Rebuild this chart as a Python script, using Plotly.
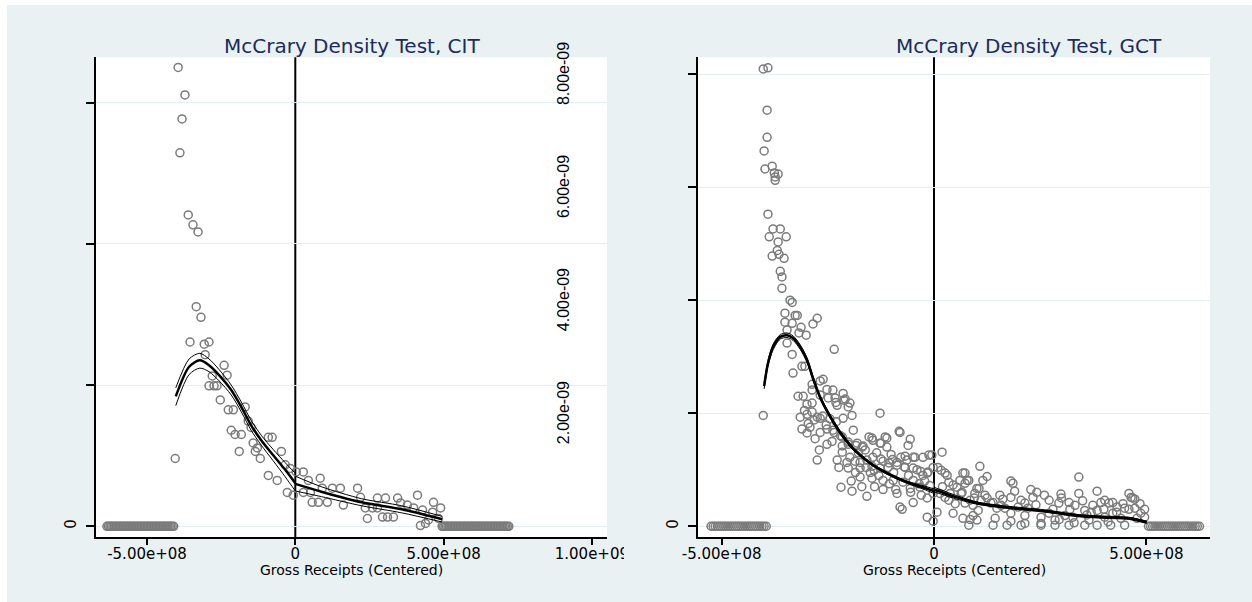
import plotly.graph_objects as go

E8 = 1e8   # x values below are in units of 1e8
E9 = 1e-9  # y values below are in units of 1e-9

# ---------------- CIT panel data ----------------
cit_x = [-3.95, -3.72, -3.82, -3.89, -3.61, -3.45, -3.28, -3.34, -3.18, -3.55, -3.07, -2.91,
         -3.04, -2.40, -2.80, -2.30, -2.91, -2.74, -2.64, -2.53, -2.26, -2.09, -1.69, -2.16,
         -2.03, -1.82, -1.59, -1.49, -1.89, -1.42, -1.35, -1.28, -0.91, -0.78, -1.18, -0.47,
         -0.34, -0.17, -0.91, -0.61, -0.27, -0.07, -4.05,
         0.03, 0.27, 0.44, 0.84, 0.27, 0.51, 0.57, 0.78, 1.08, 0.91, 1.25, 1.52, 2.10, 1.62,
         2.20, 2.43, 2.36, 2.60, 2.77, 2.77, 3.04, 3.45, 2.94, 3.11, 3.31, 3.55, 3.78, 3.99,
         4.12, 4.66, 4.90, 4.29, 4.63, 4.22, 4.39, 4.49, 4.83]
cit_y = [6.50, 6.11, 5.77, 5.29, 4.41, 4.27, 4.17, 3.11, 2.96, 2.61, 2.58, 2.61,
         2.43, 2.28, 2.13, 2.14, 1.99, 1.99, 1.99, 1.79, 1.65, 1.65, 1.69, 1.36,
         1.30, 1.30, 1.49, 1.40, 1.06, 1.18, 1.06, 1.11, 1.26, 1.26, 0.96, 1.06,
         0.87, 0.82, 0.72, 0.65, 0.48, 0.44, 0.96,
         0.77, 0.77, 0.65, 0.68, 0.48, 0.48, 0.34, 0.34, 0.34, 0.54, 0.54, 0.54, 0.54, 0.30,
         0.41, 0.11, 0.26, 0.26, 0.26, 0.40, 0.40, 0.40, 0.13, 0.13, 0.13, 0.33, 0.30, 0.26,
         0.44, 0.34, 0.26, 0.23, 0.20, 0.01, 0.04, 0.09, 0.11]
cit_zero_x = [-6.35, -6.30, -6.25, -6.20, -6.15, -6.10, -6.05, -6.00, -5.95, -5.90, -5.85,
              -5.80, -5.75, -5.70, -5.65, -5.60, -5.55, -5.50, -5.45, -5.40, -5.35, -5.30,
              -5.25, -5.20, -5.15, -5.10, -5.05, -5.00, -4.95, -4.90, -4.85, -4.80, -4.75,
              -4.70, -4.65, -4.60, -4.55, -4.50, -4.45, -4.40, -4.35, -4.30, -4.25, -4.20,
              -4.15, -4.10,
              4.95, 5.00, 5.05, 5.10, 5.15, 5.20, 5.25, 5.30, 5.35, 5.40, 5.45, 5.50, 5.55,
              5.60, 5.65, 5.70, 5.75, 5.80, 5.85, 5.90, 5.95, 6.00, 6.05, 6.10, 6.15, 6.20,
              6.25, 6.30, 6.35, 6.40, 6.45, 6.50, 6.55, 6.60, 6.65, 6.70, 6.75, 6.80, 6.85,
              6.90, 6.95, 7.00, 7.05, 7.10, 7.15, 7.20]

cit_fit_lx = [-4.03, -3.58, -3.22, -2.91, -2.57, -2.16, -1.82, -1.49, -1.15, -0.75, -0.34, 0.0]
cit_fit_l = [1.84, 2.26, 2.35, 2.28, 2.14, 1.93, 1.69, 1.43, 1.22, 1.01, 0.80, 0.61]
cit_up_l = [1.96, 2.37, 2.45, 2.37, 2.22, 2.00, 1.76, 1.50, 1.29, 1.09, 0.90, 0.75]
cit_lo_l = [1.71, 2.15, 2.24, 2.19, 2.06, 1.86, 1.62, 1.36, 1.15, 0.93, 0.70, 0.50]
cit_fit_rx = [0.0, 0.88, 2.24, 3.59, 4.95]
cit_fit_r = [0.60, 0.49, 0.34, 0.24, 0.10]
cit_up_r = [0.71, 0.56, 0.39, 0.29, 0.14]
cit_lo_r = [0.50, 0.42, 0.29, 0.19, 0.06]

# ---------------- GCT panel data ----------------
gct_x = [-4.02, -3.91, -3.93, -3.93, -4.00, -3.81, -3.98, -3.76, -3.67, -3.74, -3.74, -3.91,
         -3.79, -3.62, -3.88, -3.48, -3.67, -3.69, -3.81, -3.65, -3.53, -3.62, -3.58, -3.58,
         -3.39, -3.34, -3.51, -3.27, -3.22, -2.75, -2.85, -3.51, -3.34, -3.13, -3.01, -3.18,
         -3.46, -3.46, -3.34, -2.35, -3.32, -3.11, -3.04, -4.02,
         -2.61, -2.68, -2.87, -2.52, -2.38, -2.14, -3.20, -3.08, -2.99, -2.87, -2.33, -2.09,
         -2.28, -2.02, -1.27, -1.93, -2.14, -3.15, -2.99, -2.87, -2.75, -2.68, -2.96, -3.11,
         -2.99, -2.68, -2.52, -2.38, -2.52, -2.16, -2.02, -1.81, -1.67, -1.46, -1.27, -1.11,
         -0.80, -2.75, -2.28, -2.05, -1.86, -1.58, -0.56, -0.61, -2.24, -2.02, -1.74, -1.46,
         -1.27, -1.08, -0.87, -0.64, -0.45, -2.19, -1.93, -1.58, -1.20, -0.87, -0.56, -0.33,
         -1.74, -1.46, -1.20, -0.96, -0.73, -0.49, -0.26, -0.14, -0.80, -0.75, -0.49, -0.16,
         -0.02, -0.16, -0.02, -0.05, 0.19,
         -1.53, -1.44, -1.15, -1.25, -1.11, -1.01, -0.78, -0.68, -0.49, -0.26, -0.12, -0.68,
         -0.49, -0.31, -0.16, -1.44, -1.25, -1.06, -0.87, -2.16, -1.98, -1.74, -1.60, -1.41,
         -2.82, -2.54, -2.35, -2.16, -2.02, -1.84, -1.69, -2.87, -2.68, -2.49, -2.31, -2.12,
         -1.98, -0.82,
         -3.05, -2.92, -2.80, -2.62, -2.45, -2.30, -2.20, -1.90, -1.78, -1.62, -1.35, -1.20,
         -0.98, -0.70, -0.40, -0.22, -2.70, -2.40, -1.85, -1.50, -1.30, -0.95, -0.60, -0.35,
         -1.95, -1.70, -1.40, -1.05, -0.90, -0.55, -0.30, -0.10,
         0.09, 0.31, 0.68, 0.61, 0.78, 0.14, 0.38, 0.66, 0.85, 0.96, 0.07, 0.45, 0.68, 0.85,
         0.92, 1.04, 1.08, 0.73, 0.82, 0.73, 1.25, 1.15, 1.06, 1.01, 1.81, 1.86, 3.41, 3.84,
         3.41, 2.99, 4.59, 4.68, 2.28, 2.42, 2.71, 2.33, 1.39, 1.62, 1.81, 2.05, 2.14, 2.94,
         3.18, 3.32, 3.55, 3.74, 3.93, 4.12, 4.31, 4.49, 4.73, 4.96, 1.48, 1.81, 2.14, 2.52,
         2.71, 3.08, 1.01, 1.44, 1.81, 2.14, 2.52, 2.85, 3.27, 3.65, 4.02, 4.40, 4.78, 0.82,
         1.39, 1.72, 2.05, 2.52, 2.85, 3.18, 3.55, 3.84, 4.16, 4.49, 4.64, 4.73, 4.21, 4.02,
         3.84, 4.21, 4.59, 4.87, 4.96,
         -0.02, 0.17, 0.26, 0.35, 0.45, 0.54, 0.64, 0.26, 0.35, 0.73, 0.92, 1.11, 1.25, 1.34,
         1.58, 1.67, 1.98, 2.21,
         0.20, 0.50, 0.95, 1.20, 1.55, 1.90, 2.40, 2.60, 2.80, 3.00, 3.20, 3.50, 3.70, 4.00,
         4.30, 4.45, 4.85, 2.95, 3.30, 3.60, 4.10]
gct_y = [8.09, 8.11, 7.36, 6.88, 6.64, 6.37, 6.32, 6.25, 6.23, 6.18, 6.12, 5.52,
         5.26, 5.26, 5.12, 5.12, 5.03, 4.88, 4.78, 4.81, 4.74, 4.51, 4.41, 4.21,
         4.00, 3.96, 3.77, 3.73, 3.73, 3.68, 3.58, 3.61, 3.59, 3.52, 3.38, 3.42,
         3.47, 3.24, 3.04, 3.13, 2.71, 2.83, 2.83, 1.96,
         2.60, 2.57, 2.51, 2.42, 2.41, 2.35, 2.30, 2.30, 2.16, 2.18, 2.27, 2.25,
         2.14, 2.11, 2.00, 1.96, 1.91, 1.93, 1.98, 2.02, 1.93, 1.91, 1.82, 1.72,
         1.65, 1.66, 1.72, 1.70, 1.45, 1.42, 1.45, 1.47, 1.42, 1.56, 1.47, 1.56,
         1.66, 1.17, 1.17, 1.13, 1.15, 1.17, 1.54, 1.43, 1.04, 1.03, 1.03, 1.06,
         1.03, 1.04, 1.13, 1.17, 1.22, 0.69, 0.62, 0.53, 0.65, 0.58, 0.67, 0.69,
         0.87, 0.85, 0.81, 0.81, 0.78, 0.81, 0.90, 0.96, 0.34, 0.30, 0.42, 0.50,
         0.58, 0.16, 0.09, 1.26, 1.31,
         1.58, 1.52, 1.58, 1.47, 1.40, 1.27, 1.22, 1.24, 1.22, 1.22, 1.26, 1.04,
         1.03, 0.97, 0.94, 1.22, 1.19, 1.12, 1.08, 1.31, 1.22, 1.13, 1.04, 0.99,
         1.88, 1.79, 1.66, 1.58, 1.49, 1.43, 1.40, 2.41, 2.32, 2.27, 2.19, 2.23,
         2.18, 1.68,
         2.05, 1.75, 1.55, 1.95, 1.90, 1.85, 1.60, 1.70, 1.30, 1.35, 1.30, 1.15,
         1.18, 1.05, 1.00, 0.80, 1.35, 1.50, 0.95, 0.95, 0.90, 0.95, 0.90, 0.75,
         0.80, 0.70, 0.70, 0.75, 0.65, 0.60, 0.55, 0.72,
         1.04, 0.90, 0.94, 0.81, 0.81, 0.58, 0.58, 0.60, 0.46, 0.58, 0.25, 0.23, 0.14, 0.12,
         0.19, 0.28, 1.06, 0.94, 0.81, 0.76, 0.88, 0.81, 0.67, 0.67, 0.80, 0.76, 0.87, 0.62,
         0.58, 0.57, 0.58, 0.50, 0.65, 0.60, 0.46, 0.51, 0.42, 0.48, 0.51, 0.46, 0.41, 0.41,
         0.42, 0.37, 0.28, 0.37, 0.42, 0.41, 0.34, 0.32, 0.32, 0.30, 0.32, 0.23, 0.19, 0.16,
         0.23, 0.19, 0.11, 0.14, 0.09, 0.05, 0.05, 0.11, 0.16, 0.11, 0.16, 0.14, 0.14, 0.02,
         0.02, 0.02, 0.02, 0.02, 0.02, 0.02, 0.02, 0.02, 0.02, 0.02, 0.51, 0.48, 0.42, 0.46,
         0.28, 0.23, 0.30, 0.23, 0.16,
         1.04, 0.99, 0.94, 0.78, 0.73, 0.69, 0.58, 0.51, 0.46, 0.41, 0.37, 0.46, 0.50, 0.41,
         0.37, 0.32, 0.34, 0.32,
         0.70, 0.40, 0.50, 0.55, 0.55, 0.62, 0.38, 0.55, 0.30, 0.50, 0.30, 0.45, 0.25, 0.30,
         0.25, 0.40, 0.40, 0.12, 0.06, 0.20, 0.08]
gct_zero_x = [-5.25, -5.20, -5.15, -5.10, -5.05, -5.00, -4.95, -4.90, -4.85, -4.80, -4.75,
              -4.70, -4.65, -4.60, -4.55, -4.50, -4.45, -4.40, -4.35, -4.30, -4.25, -4.20,
              -4.15, -4.10, -4.05, -4.00, -3.95,
              5.05, 5.10, 5.15, 5.20, 5.25, 5.30, 5.35, 5.40, 5.45, 5.50, 5.55, 5.60, 5.65,
              5.70, 5.75, 5.80, 5.85, 5.90, 5.95, 6.00, 6.05, 6.10, 6.15, 6.20, 6.25]

gct_fit_lx = [-4.00, -3.91, -3.79, -3.62, -3.46, -3.32, -3.15, -2.99, -2.85, -2.68, -2.49,
              -2.21, -1.91, -1.51, -1.11, -0.64, -0.26, 0.0]
gct_fit_l = [2.48, 2.88, 3.17, 3.35, 3.38, 3.33, 3.17, 2.94, 2.62, 2.28, 2.00,
             1.66, 1.38, 1.12, 0.94, 0.78, 0.69, 0.62]
gct_up_l = [2.53, 2.93, 3.22, 3.39, 3.42, 3.37, 3.21, 2.98, 2.66, 2.31, 2.03,
            1.69, 1.41, 1.14, 0.96, 0.80, 0.72, 0.66]
gct_lo_l = [2.43, 2.83, 3.12, 3.31, 3.34, 3.29, 3.13, 2.90, 2.58, 2.25, 1.97,
            1.63, 1.35, 1.10, 0.92, 0.76, 0.66, 0.58]
gct_fit_rx = [0.0, 0.54, 1.01, 1.67, 2.61, 3.36, 4.02, 4.59, 5.01]
gct_fit_r = [0.65, 0.51, 0.41, 0.34, 0.27, 0.19, 0.16, 0.14, 0.07]
gct_up_r = [0.69, 0.54, 0.43, 0.36, 0.29, 0.21, 0.18, 0.16, 0.09]
gct_lo_r = [0.61, 0.48, 0.39, 0.32, 0.25, 0.17, 0.14, 0.12, 0.05]

# tick labels
cit_xticks = [-5, 0, 5, 10]
cit_xtext = ["-5.00e+08", "0", "5.00e+08", "1.00e+09"]
gct_xticks = [-5, 0, 5]
gct_xtext = ["-5.00e+08", "0", "5.00e+08"]
cit_yticks = [0, 2, 4, 6]
gct_yticks = [0, 2, 4, 6, 8]
stray_labels = ["8.00e-09", "6.00e-09", "4.00e-09", "2.00e-09"]
stray_vals = [8, 6, 4, 2]


def sx(a):
    return [v * E8 for v in a]


def sy(a):
    return [v * E9 for v in a]


W, H = 1252, 602
BG = "#E9F1F3"
GRID = "#E4EDF0"
MK = "#7b7b7b"
FONT = "DejaVu Sans"


def px_x(p):
    return p / W


def px_y(p):
    return 1 - p / H


fig = go.Figure()

marker = dict(symbol="circle-open", size=8, color=MK, line=dict(width=1.5))


def add_panel(xa, ya, px_, py_, zx, lx, lfit, lup, llo, rx, rfit, rup, rlo, fitw):
    fig.add_trace(go.Scatter(x=sx(px_), y=sy(py_), mode="markers", marker=marker,
                             xaxis=xa, yaxis=ya, showlegend=False, hoverinfo="skip"))
    fig.add_trace(go.Scatter(x=sx(zx), y=sy([0.0] * len(zx)), mode="markers", marker=marker,
                             xaxis=xa, yaxis=ya, showlegend=False, hoverinfo="skip"))
    for xs, ys, w in [(lx, lup, 1), (lx, llo, 1), (rx, rup, 1), (rx, rlo, 1),
                      (lx, lfit, fitw), (rx, rfit, fitw)]:
        fig.add_trace(go.Scatter(x=sx(xs), y=sy(ys), mode="lines",
                                 line=dict(color="black", width=w, shape="spline", smoothing=0.8),
                                 xaxis=xa, yaxis=ya, showlegend=False, hoverinfo="skip"))


add_panel("x", "y", cit_x, cit_y, cit_zero_x, cit_fit_lx, cit_fit_l, cit_up_l, cit_lo_l,
          cit_fit_rx, cit_fit_r, cit_up_r, cit_lo_r, 2.5)
add_panel("x2", "y2", gct_x, gct_y, gct_zero_x, gct_fit_lx, gct_fit_l, gct_up_l, gct_lo_l,
          gct_fit_rx, gct_fit_r, gct_up_r, gct_lo_r, 2.5)

ydom = [px_y(537), px_y(57.3)]
axis_common = dict(showline=True, linecolor="black", linewidth=1.5, ticks="outside",
                   ticklen=6, tickwidth=1.5, tickcolor="black", zeroline=False,
                   automargin=False,
                   tickfont=dict(family=FONT, size=15, color="black"))

fig.update_layout(
    width=W, height=H, autosize=False,
    margin=dict(l=0, r=0, t=0, b=0, pad=0, autoexpand=False),
    paper_bgcolor=BG, plot_bgcolor="white",
    xaxis=dict(domain=[px_x(96), px_x(607)], range=[-6.72 * E8, 10.51 * E8],
               tickvals=sx(cit_xticks), ticktext=cit_xtext, showgrid=False,
               anchor="y", ticklabelstandoff=-4, **axis_common),
    yaxis=dict(domain=ydom, range=[-0.152 * E9, 6.643 * E9], tickvals=sy(cit_yticks),
               ticktext=["0", "", "", ""], tickangle=-90, showgrid=True, gridcolor=GRID,
               gridwidth=1, anchor="x", ticklabelstandoff=4,
               **{**axis_common, "linewidth": 2, "ticklen": 8}),
    xaxis2=dict(domain=[px_x(698), px_x(1210)], range=[-5.557 * E8, 6.499 * E8],
                tickvals=sx(gct_xticks), ticktext=gct_xtext, showgrid=False,
                anchor="y2", ticklabelstandoff=-4, **axis_common),
    yaxis2=dict(domain=ydom, range=[-0.19 * E9, 8.296 * E9], tickvals=sy(gct_yticks),
                ticktext=["0", "", "", "", ""], tickangle=-90, showgrid=True, gridcolor=GRID,
                gridwidth=1, anchor="x2", ticklabelstandoff=4,
                **{**axis_common, "linewidth": 2, "ticklen": 8}),
)

shapes = []
# vertical cut-off lines at zero
for xr, yr in [("x", "y domain"), ("x2", "y2 domain")]:
    shapes.append(dict(type="line", xref=xr, yref=yr, x0=0, x1=0, y0=0, y1=1,
                       line=dict(color="black", width=2), layer="below"))
# thin white frame at top and left of the image
shapes.append(dict(type="rect", xref="paper", yref="paper", x0=0, x1=1, y0=px_y(5), y1=1,
                   fillcolor="white", line=dict(width=0), layer="above"))
shapes.append(dict(type="rect", xref="paper", yref="paper", x0=0, x1=px_x(7), y0=0, y1=1,
                   fillcolor="white", line=dict(width=0), layer="above"))
# clip of the left panel's last tick label (cut off by the right graph)
shapes.append(dict(type="rect", xref="paper", yref="paper", x0=px_x(624), x1=px_x(664),
                   y0=px_y(566), y1=px_y(543), fillcolor=BG, line=dict(width=0), layer="above"))
fig.update_layout(shapes=shapes)

ann = []
ann.append(dict(text="McCrary Density Test, CIT", x=px_x(351.5), y=px_y(46), xref="paper",
                yref="paper", showarrow=False, xanchor="center", yanchor="middle",
                font=dict(family=FONT, size=20, color="#1d2c5a")))
ann.append(dict(text="McCrary Density Test, GCT", x=px_x(1029), y=px_y(46), xref="paper",
                yref="paper", showarrow=False, xanchor="center", yanchor="middle",
                font=dict(family=FONT, size=20, color="#1d2c5a")))
for cx in [351.5, 954]:
    ann.append(dict(text="Gross Receipts (Centered)", x=px_x(cx), y=px_y(570), xref="paper",
                    yref="paper", showarrow=False, xanchor="center", yanchor="middle",
                    font=dict(family=FONT, size=14, color="black")))
for lab, v in zip(stray_labels, stray_vals):
    ann.append(dict(text=lab, x=px_x(563), y=v * E9, xref="paper", yref="y2",
                    showarrow=False, textangle=-90, xanchor="center", yanchor="middle",
                    font=dict(family="Liberation Sans", size=16, color="black")))
fig.update_layout(annotations=ann)

fig.write_html("out.html", config={"displayModeBar": False},
               post_script="document.body.style.margin='0px';document.body.style.overflow='hidden';")
